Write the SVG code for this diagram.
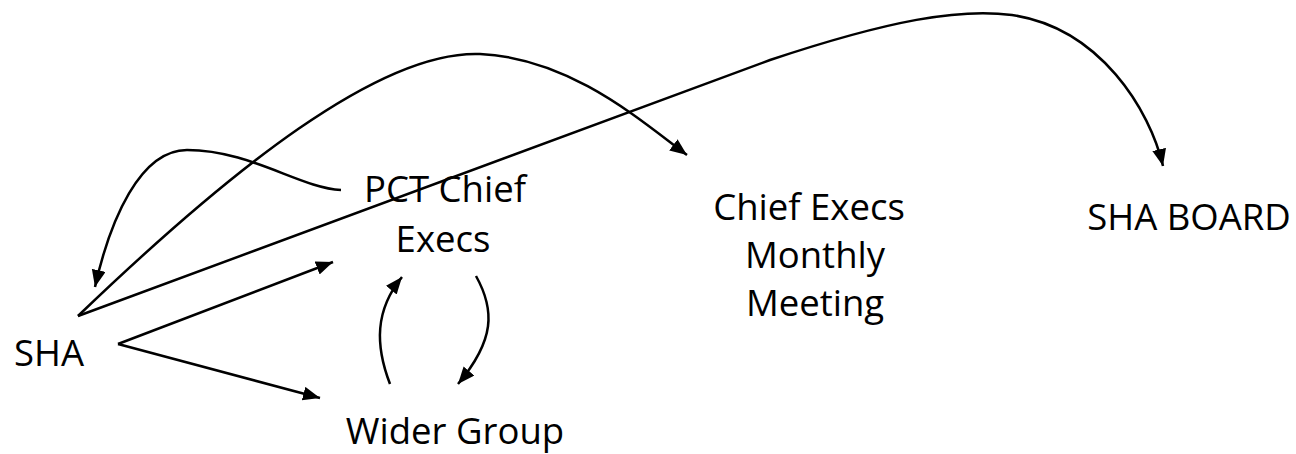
<svg xmlns="http://www.w3.org/2000/svg" width="1296" height="454" viewBox="0 0 1296 454">
<style>
.lbl{font-family:"Open Sans","Liberation Sans",sans-serif;font-size:36.5px;fill:#000;text-anchor:middle}
.c{fill:none;stroke:#000;stroke-width:2.5}
</style>
<defs>
<marker id="ah" markerUnits="userSpaceOnUse" markerWidth="20" markerHeight="16" refX="17" refY="7" orient="auto">
<path d="M0,0 L17,7 L0,14 Z" fill="#000"/>
</marker>
</defs>
<rect width="1296" height="454" fill="#fff"/>
<g id="connectors">
<path class="c" d="M118,344 L333,262" marker-end="url(#ah)"/>
<path class="c" d="M118,344 L320,398" marker-end="url(#ah)"/>
<path class="c" d="M78,316 C230,170 380,50 480,54 C570,58 640,120 687,155" marker-end="url(#ah)"/>
<path class="c" d="M78,316 L770,60 C890,20 960,8 1012,15 C1100,28 1150,110 1163,166" marker-end="url(#ah)"/>
<path class="c" d="M341,190 C300,188 250,150 187,150 C140,150 110,220 95,287" marker-end="url(#ah)"/>
<path class="c" d="M390,384 C375,345 375,310 402,277" marker-end="url(#ah)"/>
<path class="c" d="M476,276 C495,310 495,340 458,384" marker-end="url(#ah)"/>
</g>
<g id="sha"><text class="lbl" x="49" y="366">SHA</text></g>
<g id="pct"><text class="lbl" x="445" y="202">PCT Chief</text><text class="lbl" x="443" y="252">Execs</text></g>
<g id="cemm"><text class="lbl" x="809" y="220">Chief Execs</text><text class="lbl" x="815" y="268">Monthly</text><text class="lbl" x="815" y="316">Meeting</text></g>
<g id="board"><text class="lbl" x="1189" y="230">SHA BOARD</text></g>
<g id="wider"><text class="lbl" x="455" y="444">Wider Group</text></g>
</svg>
